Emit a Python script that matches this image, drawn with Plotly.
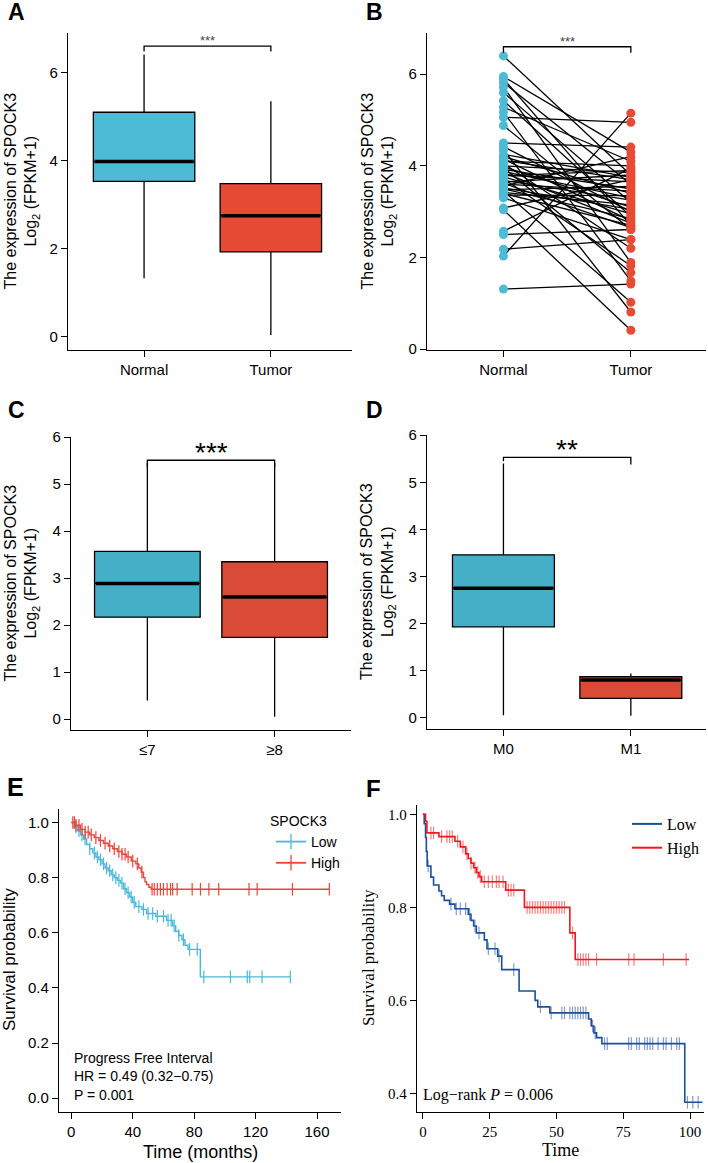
import numpy as np
import plotly.graph_objects as go

W, H = 708, 1163

SANS = "Liberation Sans, Arial, sans-serif"
SERIF = "Liberation Serif, Times New Roman, serif"

# --- A: Normal vs Tumor (box summary) ---
groups_a = ["Normal", "Tumor"]
q1_a = [3.53, 1.93]
median_a = [3.98, 2.75]
q3_a = [5.10, 3.48]
low_a = [1.33, 0.04]
high_a = [6.41, 5.35]

# --- B: paired samples ---
groups_b = ["Normal", "Tumor"]
normal_b = [6.40, 5.95, 5.90, 5.82, 5.72, 5.60, 5.42, 5.28, 5.17, 5.06,
            4.88, 4.50, 4.42, 4.35, 4.25, 4.20, 4.15, 4.12, 4.10, 4.05,
            4.00, 3.98, 3.96, 3.92, 3.88, 3.85, 3.80, 3.78, 3.76, 3.72,
            3.68, 3.65, 3.62, 3.60, 3.56, 3.52, 3.50, 3.48, 3.45, 3.42,
            3.40, 3.36, 3.30, 3.08, 3.04, 2.57, 2.50, 2.18, 2.03, 1.31]
tumor_b = [3.80, 4.30, 2.70, 3.60, 1.89, 3.20, 2.90, 4.10, 1.49, 4.95,
           2.61, 4.41, 3.00, 0.81, 3.75, 3.40, 2.80, 3.70, 4.00, 2.20,
           3.85, 3.10, 1.67, 3.50, 3.30, 2.75, 3.65, 3.90, 2.95, 1.82,
           3.25, 3.80, 2.65, 3.45, 4.20, 3.05, 2.85, 3.55, 1.02, 3.15,
           2.70, 3.35, 2.39, 3.70, 0.41, 3.95, 2.61, 2.39, 5.15, 1.42]

# --- C: Gleason ---
groups_c = ["≤7", "≥8"]
q1_c = [2.17, 1.74]
median_c = [2.89, 2.60]
q3_c = [3.57, 3.35]
low_c = [0.40, 0.05]
high_c = [5.45, 5.45]

# --- D: M stage ---
groups_d = ["M0", "M1"]
q1_d = [1.93, 0.41]
median_d = [2.75, 0.80]
q3_d = [3.46, 0.87]
low_d = [0.05, 0.04]
high_d = [5.40, 0.94]

# significance brackets: level, left foot, right foot, label
sig_level = [6.60, 6.60, 5.51, 5.53]
sig_left = [6.48, 6.47, 5.36, 5.45]
sig_right = [6.48, 6.47, 5.36, 5.38]
sig_text = ["***", "***", "***", "**"]

# --- E: Progress free interval KM ---
e_low_t = [0, 2, 4, 6, 8, 10, 12, 14, 16, 18, 20, 22, 24, 26, 28, 30, 32,
           34, 36, 38, 40, 42, 46, 49, 55, 62, 66, 68, 70, 72, 74, 76, 84]
e_low_s = [1.0, 0.985, 0.97, 0.955, 0.94, 0.92, 0.905, 0.89, 0.875, 0.865,
           0.85, 0.835, 0.825, 0.81, 0.80, 0.79, 0.78, 0.76, 0.745, 0.73,
           0.71, 0.695, 0.685, 0.67, 0.66, 0.645, 0.625, 0.605, 0.59, 0.575,
           0.555, 0.54, 0.44]
e_low_end = 142.6
e_low_cens = [3, 5, 7, 9, 12, 15, 17, 19, 21, 23, 25, 27, 29, 31, 33, 35, 37,
              39, 41, 44, 47, 50, 53, 56, 60, 63, 65, 67, 70, 73, 77, 82,
              86.3, 103.6, 114.6, 116.2, 124.2, 142.6]
e_high_t = [0, 3, 6, 9, 12, 15, 18, 21, 24, 27, 30, 33, 36, 39, 42, 44,
            45.5, 47, 48, 49, 50.5, 52]
e_high_s = [1.0, 0.99, 0.975, 0.965, 0.955, 0.945, 0.935, 0.925, 0.915,
            0.905, 0.895, 0.885, 0.875, 0.86, 0.85, 0.835, 0.82, 0.80,
            0.785, 0.775, 0.765, 0.758]
e_high_end = 168
e_high_cens = [1, 2, 3, 5, 7, 9, 11, 13, 16, 19, 22, 25, 28, 31, 33, 35, 37,
               40, 43, 46, 52.6, 54, 56, 58, 60, 62.4, 64.6, 66, 68.9, 78.7,
               84.1, 89.6, 96, 115.7, 121, 144, 168]
e_info = ["Progress Free Interval", "HR = 0.49 (0.32−0.75)", "P = 0.001"]

# --- F: overall KM ---
f_low_t = [0, 0.5, 1.0, 1.3, 1.6, 3, 4, 6, 7, 8, 10, 12, 17, 18, 19, 20,
           23, 24, 28, 29.5, 36, 42, 43, 47.5, 62, 63, 64, 65, 67, 98]
f_low_s = [1.0, 0.98, 0.95, 0.92, 0.889, 0.865, 0.848, 0.835, 0.825, 0.815,
           0.807, 0.797, 0.785, 0.772, 0.76, 0.745, 0.73, 0.711, 0.695,
           0.666, 0.62, 0.60, 0.586, 0.573, 0.56, 0.545, 0.53, 0.52, 0.507,
           0.381]
f_low_end = 104.6
f_low_cens = [2.0, 10.5, 12.5, 14, 16, 17.5, 19.5, 21, 24.5, 27, 28.5, 34,
              44, 48, 52, 53, 55, 56, 57, 58, 59, 60, 61, 63.5, 64.5, 68, 69,
              77, 78, 80, 81, 83, 84, 85, 86, 88, 90, 91, 93, 95, 96, 99,
              101, 103]
f_high_t = [0, 1.0, 1.5, 6, 12, 14, 16, 17, 18, 19, 20, 21, 22, 31, 38, 55,
            57]
f_high_s = [1.0, 0.985, 0.96, 0.952, 0.942, 0.93, 0.915, 0.905, 0.895,
            0.885, 0.875, 0.866, 0.855, 0.837, 0.80, 0.745, 0.688]
f_high_end = 99.6
f_high_cens = [3, 4, 7, 9, 10, 11, 13, 15, 16.5, 18, 19.5, 20.5, 21.5, 23,
               24.5, 26, 27.5, 28.5, 30, 32, 33, 34, 39, 40, 41, 42, 43, 44,
               45, 46, 47, 48, 49, 50, 51, 52, 53, 56, 58, 59, 60, 61, 62, 65,
               77, 79, 90, 98.5]

BLUE_A, RED_A = "#4DBBD5", "#E64B35"
BLUE_C, RED_C = "#45AFC8", "#D94B36"
BLUE_E, RED_E = "#4CB8D8", "#E8453C"
BLUE_F, RED_F = "#1D4E9B", "#F2161E"


def px_x(a, b):
    return [a / W, b / W]


def px_y(top, bottom):
    return [1 - bottom / H, 1 - top / H]


def axis(domain, rng, anchor, font=SANS, size=15, **kw):
    d = dict(domain=domain, range=rng, anchor=anchor, showline=True,
             linecolor="black", linewidth=1.3, ticks="outside", ticklen=6,
             tickwidth=1.3, tickcolor="black", showgrid=False, zeroline=False,
             automargin=False,
             tickfont=dict(family=font, size=size, color="black"))
    d.update(kw)
    return d


fig = go.Figure()


def add_boxes(ax, q1, med, q3, lo, hi, colors, width):
    for i in range(len(q1)):
        fig.add_trace(go.Box(
            x=[i], q1=[q1[i]], median=[med[i]], q3=[q3[i]],
            lowerfence=[lo[i]], upperfence=[hi[i]], width=width,
            fillcolor=colors[i], line=dict(color="black", width=1.3),
            whiskerwidth=0, boxpoints=False, showlegend=False,
            xaxis="x" + ax, yaxis="y" + ax, hoverinfo="skip"))
        # thick median bar like ggplot
        fig.add_trace(go.Scatter(
            x=[i - width / 2 + 0.01, i + width / 2 - 0.01], y=[med[i], med[i]],
            mode="lines", line=dict(color="black", width=3.5),
            showlegend=False, xaxis="x" + ax, yaxis="y" + ax, hoverinfo="skip"))


def add_bracket(ax, k, size, color, shift):
    fig.add_trace(go.Scatter(
        x=[0, 0, 1, 1], y=[sig_left[k], sig_level[k], sig_level[k], sig_right[k]],
        mode="lines", line=dict(color="black", width=1.3),
        showlegend=False, xaxis="x" + ax, yaxis="y" + ax, hoverinfo="skip"))
    fig.add_annotation(x=0.5, y=sig_level[k], xref="x" + ax, yref="y" + ax,
                       text=sig_text[k], showarrow=False, yanchor="bottom",
                       yshift=shift, font=dict(family=SANS, size=size, color=color))


add_boxes("", q1_a, median_a, q3_a, low_a, high_a, [BLUE_A, RED_A], 0.8)
add_bracket("", 0, 13, "#444444", -4)

# B paired lines
lx, ly = [], []
for n, t in zip(normal_b, tumor_b):
    lx += [0, 1, None]
    ly += [n, t, None]
fig.add_trace(go.Scatter(x=lx, y=ly, mode="lines",
                         line=dict(color="black", width=1.3),
                         showlegend=False, xaxis="x2", yaxis="y2", hoverinfo="skip"))
fig.add_trace(go.Scatter(x=[0] * len(normal_b), y=normal_b, mode="markers",
                         marker=dict(color=BLUE_A, size=9),
                         showlegend=False, xaxis="x2", yaxis="y2"))
fig.add_trace(go.Scatter(x=[1] * len(tumor_b), y=tumor_b, mode="markers",
                         marker=dict(color=RED_A, size=9),
                         showlegend=False, xaxis="x2", yaxis="y2"))
add_bracket("2", 1, 13, "#444444", -4)

add_boxes("3", q1_c, median_c, q3_c, low_c, high_c, [BLUE_C, RED_C], 0.83)
add_bracket("3", 2, 28, "black", -10)
add_boxes("4", q1_d, median_d, q3_d, low_d, high_d, [BLUE_C, RED_C], 0.8)
add_bracket("4", 3, 28, "black", -10)


def km(ax, t, s, end, cens, color, name, legend, width, cens_opacity, show_mark):
    t = np.array(t, dtype=float)
    s = np.array(s, dtype=float)
    x = list(t) + [end]
    y = list(s) + [s[-1]]
    fig.add_trace(go.Scatter(x=x, y=y, mode="lines", line_shape="hv",
                             line=dict(color=color, width=width),
                             showlegend=False, xaxis="x" + ax, yaxis="y" + ax))
    c = np.array(cens, dtype=float)
    cy = s[np.searchsorted(t, c, side="right") - 1]
    fig.add_trace(go.Scatter(x=c, y=cy, mode="markers",
                             marker=dict(symbol="line-ns", size=9, opacity=cens_opacity,
                                         line=dict(color=color, width=1.2)),
                             showlegend=False, xaxis="x" + ax, yaxis="y" + ax))
    fig.add_trace(go.Scatter(x=[None], y=[None], name=name, legend=legend,
                             mode="lines+markers" if show_mark else "lines",
                             line=dict(color=color, width=width + 0.4),
                             marker=dict(symbol="line-ns", size=11,
                                         line=dict(color=color, width=1.3)),
                             xaxis="x" + ax, yaxis="y" + ax))


km("5", e_low_t, e_low_s, e_low_end, e_low_cens, BLUE_E, "Low", "legend", 1.4, 1.0, True)
km("5", e_high_t, e_high_s, e_high_end, e_high_cens, RED_E, "High", "legend", 1.4, 1.0, True)
km("6", f_low_t, f_low_s, f_low_end, f_low_cens, BLUE_F, "Low", "legend2", 1.6, 0.55, False)
km("6", f_high_t, f_high_s, f_high_end, f_high_cens, RED_F, "High", "legend2", 1.6, 0.55, False)


def label(text, x, y, size, font=SANS, xanchor="center", angle=0):
    fig.add_annotation(x=x / W, y=1 - y / H, xref="paper", yref="paper",
                       text=text, showarrow=False, xanchor=xanchor,
                       yanchor="middle", textangle=angle,
                       font=dict(family=font, size=size, color="black"))


for i, line in enumerate(e_info):
    label(line, 72, 1058 + 18.3 * i, 14, xanchor="left")
label("Log−rank <i>P</i> = 0.006", 421, 1095, 16, SERIF, "left")
label("SPOCK3", 268, 821, 14, xanchor="left")

# y-axis titles
ytitle = "The expression of SPOCK3<br>Log<sub>2</sub> (FPKM+1)"
for xc, (top, bot) in [(21, (33, 350)), (378, (33, 350)), (21, (437, 730)), (378, (435, 729))]:
    label(ytitle, xc, (top + bot) / 2, 16, angle=-90)
label("Survival probability", 9, 960, 17, angle=-90)
label("Survival probability", 368, 958, 17, SERIF, angle=-90)
label("Time (months)", 200, 1152, 18)
label("Time", 560, 1150, 18, SERIF)

# panel letters
for lab, xl, yc, sz in [("A", 6, 12, 23), ("B", 364, 12, 23), ("C", 6, 410, 23),
                        ("D", 364, 410, 23), ("E", 5, 787, 25), ("F", 364, 788, 24)]:
    label("<b>%s</b>" % lab, xl, yc, sz, xanchor="left")

fig.update_layout(
    width=W, height=H, margin=dict(l=0, r=0, t=0, b=0, autoexpand=False),
    paper_bgcolor="white", plot_bgcolor="white", boxmode="overlay",
    xaxis=axis(px_x(68, 352), [-0.6, 1.64], "y", tickvals=[0, 1], ticktext=groups_a),
    yaxis=axis(px_y(33, 350), [-0.3, 6.9], "x", tickvals=[0, 2, 4, 6]),
    xaxis2=axis(px_x(427, 706), [-0.6, 1.59], "y2", tickvals=[0, 1], ticktext=groups_b),
    yaxis2=axis(px_y(33, 350), [-0.02, 6.9], "x2", tickvals=[0, 2, 4, 6]),
    xaxis3=axis(px_x(71, 351), [-0.6, 1.6], "y3", tickvals=[0, 1], ticktext=groups_c),
    yaxis3=axis(px_y(437, 730), [-0.23, 6.005], "x3", tickvals=[0, 1, 2, 3, 4, 5, 6]),
    xaxis4=axis(px_x(427, 706), [-0.6, 1.59], "y4", tickvals=[0, 1], ticktext=groups_d),
    yaxis4=axis(px_y(435, 729), [-0.24, 6.005], "x4", tickvals=[0, 1, 2, 3, 4, 5, 6]),
    xaxis5=axis(px_x(59, 341), [-8, 175.6], "y5", tickvals=[0, 40, 80, 120, 160]),
    yaxis5=axis(px_y(809, 1112), [-0.05, 1.049], "x5",
                tickvals=[0, 0.2, 0.4, 0.6, 0.8, 1.0], tickformat=".1f"),
    xaxis6=axis(px_x(417, 704), [-2.2, 105.2], "y6", SERIF, 15,
                tickvals=[0, 25, 50, 75, 100]),
    yaxis6=axis(px_y(805, 1112), [0.36, 1.02], "x6", SERIF, 15,
                tickvals=[0.4, 0.6, 0.8, 1.0], tickformat=".1f"),
    legend=dict(x=271 / W, y=1 - 826 / H, xanchor="left", yanchor="top",
                bgcolor="rgba(0,0,0,0)", tracegroupgap=0,
                font=dict(family=SANS, size=14, color="black")),
    legend2=dict(x=627 / W, y=1 - 807 / H, xanchor="left", yanchor="top",
                 bgcolor="rgba(0,0,0,0)",
                 font=dict(family=SERIF, size=16, color="black")),
)

fig.write_html("out.html", config={"displayModeBar": False},
               post_script="document.body.style.margin='0';"
                           "document.body.style.overflow='hidden';")
